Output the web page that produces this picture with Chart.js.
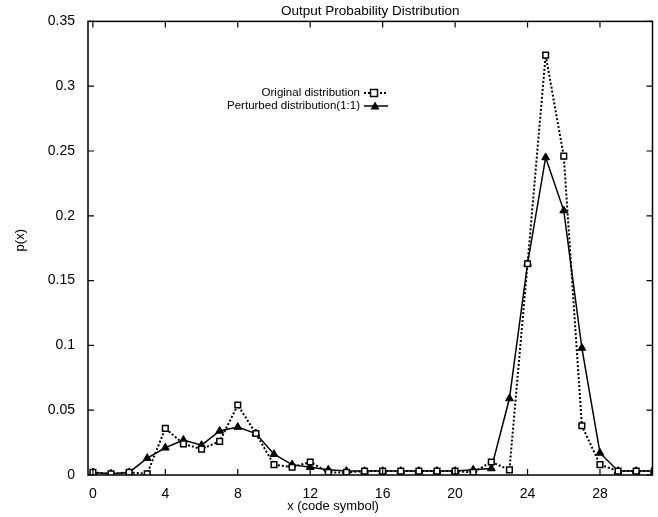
<!DOCTYPE html>
<html lang="en">
<head>
  <meta charset="UTF-8">
  <title>Output Probability Distribution</title>
  <style>
    html, body { margin: 0; padding: 0; background: #fff; }
    .chart-container { position: relative; width: 658px; height: 517px; }
  </style>
</head>
<body>
  <div class="chart-container"><canvas id="probChart"></canvas></div>

  <script src="https://cdn.jsdelivr.net/npm/chart.js"></script>
  <script>
    // values
    const codeSymbols = [0, 1, 2, 3, 4, 5, 6, 7, 8, 9, 10, 11, 12, 13, 14, 15,
      16, 17, 18, 19, 20, 21, 22, 23, 24, 25, 26, 27, 28, 29, 30, 31];
    const originalDist = [0.002, 0.001, 0.002, 0.001, 0.036, 0.024, 0.020, 0.026,
      0.054, 0.032, 0.008, 0.006, 0.010, 0.002, 0.002, 0.003,
      0.003, 0.003, 0.003, 0.003, 0.003, 0.002, 0.010, 0.004,
      0.163, 0.324, 0.246, 0.038, 0.008, 0.003, 0.003, 0.003];
    const perturbedDist = [0.002, 0.001, 0.002, 0.013, 0.021, 0.027, 0.023, 0.034,
      0.037, 0.032, 0.016, 0.008, 0.006, 0.004, 0.003, 0.003,
      0.003, 0.003, 0.003, 0.003, 0.003, 0.004, 0.005, 0.059,
      0.163, 0.245, 0.204, 0.098, 0.017, 0.003, 0.003, 0.003];
    const xTicks = [0, 4, 8, 12, 16, 20, 24, 28];
    const yTicks = [0, 0.05, 0.1, 0.15, 0.2, 0.25, 0.3, 0.35];

    const legendLabels = ['Original distribution', 'Perturbed distribution(1:1)'];
    const fontFamily = '"Liberation Sans", Arial, sans-serif';

    function toPoints(values) {
      return codeSymbols.map((x, i) => ({ x: x, y: values[i] }));
    }

    function drawSquare(ctx, x, y, r) {
      ctx.save();
      ctx.setLineDash([]);
      ctx.fillStyle = '#fff';
      ctx.strokeStyle = '#000';
      ctx.lineWidth = 1.5;
      ctx.fillRect(x - r, y - r, 2 * r, 2 * r);
      ctx.strokeRect(x - r, y - r, 2 * r, 2 * r);
      ctx.restore();
    }

    function drawTriangle(ctx, x, y, r) {
      ctx.save();
      ctx.fillStyle = '#000';
      ctx.beginPath();
      ctx.moveTo(x, y - r);
      ctx.lineTo(x + r, y + r * 0.8);
      ctx.lineTo(x - r, y + r * 0.8);
      ctx.closePath();
      ctx.fill();
      ctx.restore();
    }

    // frame, inward ticks, titles and the legend
    const decorations = {
      id: 'decorations',
      afterDraw(chart) {
        const ctx = chart.ctx;
        const area = chart.chartArea;
        const xs = chart.scales.x;
        const ys = chart.scales.y;
        const tick = 6;

        ctx.save();
        ctx.strokeStyle = '#000';
        ctx.lineWidth = 1.5;
        ctx.strokeRect(area.left, area.top, area.right - area.left, area.bottom - area.top);

        ctx.lineWidth = 1.2;
        ctx.beginPath();
        xTicks.forEach(v => {
          const px = xs.getPixelForValue(v);
          ctx.moveTo(px, area.bottom);
          ctx.lineTo(px, area.bottom - tick);
          ctx.moveTo(px, area.top);
          ctx.lineTo(px, area.top + tick);
        });
        yTicks.forEach(v => {
          const py = ys.getPixelForValue(v);
          ctx.moveTo(area.left, py);
          ctx.lineTo(area.left + tick, py);
          ctx.moveTo(area.right, py);
          ctx.lineTo(area.right - tick, py);
        });
        ctx.stroke();

        ctx.fillStyle = '#000';
        ctx.textAlign = 'center';
        ctx.textBaseline = 'middle';
        ctx.font = '13.5px ' + fontFamily;
        ctx.fillText('Output Probability Distribution', (area.left + area.right) / 2, 11);
        ctx.font = '13px ' + fontFamily;
        ctx.fillText('x (code symbol)', 333, 506);

        ctx.save();
        ctx.translate(20, (area.top + area.bottom) / 2 - 8);
        ctx.rotate(-Math.PI / 2);
        ctx.fillText('p(x)', 0, 0);
        ctx.restore();

        // legend: text right aligned, sample line and marker to the right
        const textRight = 360;
        const rows = [93, 106];
        ctx.font = '11.5px ' + fontFamily;
        ctx.textAlign = 'right';
        legendLabels.forEach((label, i) => {
          const y = rows[i];
          ctx.fillText(label, textRight, y);
          ctx.beginPath();
          ctx.lineWidth = i === 0 ? 2 : 1.5;
          ctx.setLineDash(i === 0 ? [2, 2] : []);
          ctx.moveTo(textRight + 4, y);
          ctx.lineTo(textRight + 28, y);
          ctx.stroke();
          ctx.setLineDash([]);
          if (i === 0) drawSquare(ctx, textRight + 14, y, 3.5);
          else drawTriangle(ctx, textRight + 15, y, 4.5);
        });
        ctx.restore();
      }
    };

    const ctx = document.getElementById('probChart').getContext('2d');
    new Chart(ctx, {
      type: 'line',
      data: {
        datasets: [
          {
            label: legendLabels[0],
            data: toPoints(originalDist),
            borderColor: '#000',
            borderWidth: 2,
            borderDash: [2, 2],
            pointStyle: 'rect',
            pointRadius: 4,
            pointBackgroundColor: '#fff',
            pointBorderColor: '#000',
            pointBorderWidth: 1.5,
            tension: 0
          },
          {
            label: legendLabels[1],
            data: toPoints(perturbedDist),
            borderColor: '#000',
            borderWidth: 1.5,
            pointStyle: 'triangle',
            pointRadius: 4.5,
            pointBackgroundColor: '#000',
            pointBorderColor: '#000',
            pointBorderWidth: 1,
            tension: 0
          }
        ]
      },
      options: {
        responsive: true,
        maintainAspectRatio: false,
        animation: false,
        layout: { padding: { top: 21, right: 3, left: 0, bottom: 0 } },
        plugins: {
          legend: { display: false },
          title: { display: false },
          tooltip: { enabled: false }
        },
        scales: {
          x: {
            type: 'linear',
            min: -0.27,
            max: 30.9,
            afterBuildTicks: s => { s.ticks = xTicks.map(v => ({ value: v })); },
            afterFit: s => { s.height = 42; },
            grid: { display: false, drawTicks: false },
            border: { display: false },
            ticks: {
              color: '#000',
              padding: 11,
              maxRotation: 0,
              font: { size: 14, family: fontFamily }
            }
          },
          y: {
            min: 0,
            max: 0.35,
            afterBuildTicks: s => { s.ticks = yTicks.map(v => ({ value: v })); },
            afterFit: s => { s.width = 88; },
            grid: { display: false, drawTicks: false },
            border: { display: false },
            ticks: {
              color: '#000',
              padding: 13,
              font: { size: 14, family: fontFamily },
              callback: v => String(+Number(v).toFixed(2))
            }
          }
        }
      },
      plugins: [decorations]
    });
  </script>
</body>
</html>
